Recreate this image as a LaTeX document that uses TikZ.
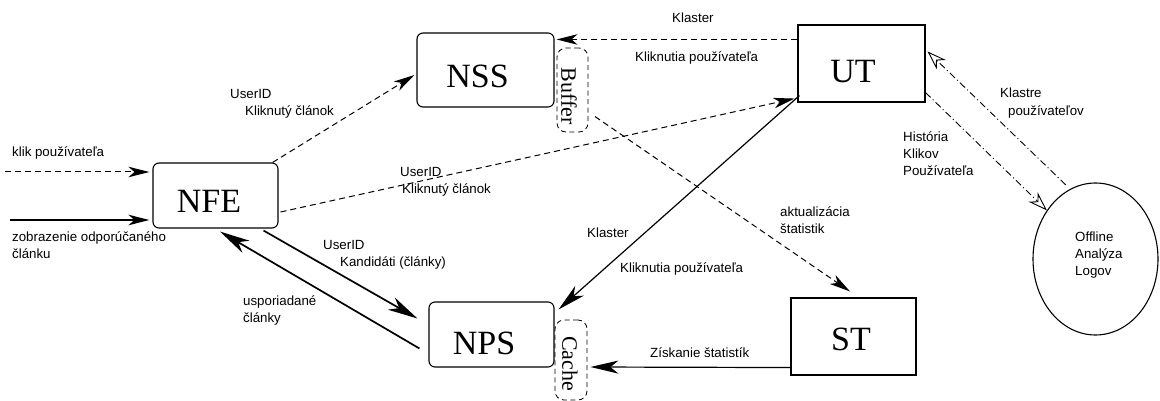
\documentclass[tikz,border=0pt]{standalone}
\usepackage{fontspec}
\setmainfont{Liberation Serif}
\newfontfamily\labelsans{Liberation Sans}
\usetikzlibrary{arrows.meta,calc,shapes.geometric}

\tikzset{
  unit/.style={draw, line width=1.1pt, inner sep=0pt},
  roundunit/.style={unit, rounded corners=6pt},
  store/.style={draw, dash pattern=on 5pt off 3.5pt, line width=0.8pt, rounded corners=9pt, inner sep=0pt},
  title/.style={font=\fontsize{34}{40}\selectfont, inner sep=0pt},
  side/.style={font=\fontsize{22}{26}\selectfont, inner sep=0pt, rotate=-90},
  note/.style={font=\labelsans\fontsize{13.3}{17}\selectfont, inner sep=0pt, anchor=west, align=left},
  flow/.style={line width=1pt, -{Stealth[length=21pt,width=10.5pt,inset=6pt]}},
  query/.style={flow, dash pattern=on 6pt off 4pt},
  solidflow/.style={line width=1.2pt, -{Stealth[length=28pt,width=13pt,inset=8pt]}},
  heavy/.style={line width=1.7pt, -{Stealth[length=30pt,width=14pt,inset=9pt]}},
  offline/.style={line width=0.9pt, dash pattern=on 7pt off 3pt on 1pt off 3pt,
                  -{Stealth[open,length=19pt,width=13pt,inset=6pt]}},
}

\begin{document}
\begin{tikzpicture}[x=1pt,y=-1pt]
\useasboundingbox (0,0) rectangle (1160,401);

% processing units
\node[roundunit, minimum width=125pt, minimum height=65pt,
      label={[title,xshift=-6.5pt,yshift=-5.5pt]center:NFE}] (nfe) at (215.5,195.5) {};
\node[roundunit, minimum width=137pt, minimum height=74pt,
      label={[title,xshift=-8pt,yshift=-6pt]center:NSS}] (nss) at (485.5,70) {};
\node[unit, minimum width=127pt, minimum height=77pt,
      label={[title,xshift=-8.5pt,yshift=-8pt]center:UT}] (ut) at (861.5,63.5) {};
\node[roundunit, minimum width=125pt, minimum height=65pt,
      label={[title,xshift=-7.5pt,yshift=-8.5pt]center:NPS}] (nps) at (491.5,334.5) {};
\node[unit, minimum width=125pt, minimum height=77pt,
      label={[title,xshift=-2.5pt,yshift=-2.5pt]center:ST}] (st) at (853.5,336.5) {};

% attached stores
\node[store, minimum width=31pt, minimum height=84pt] (buf) at (572.5,90) {};
\node[side] (buftxt) at ($(buf.center)+(-3.5,6.5)$) {Buffer};
\node[store, minimum width=32pt, minimum height=80pt] (cache) at (571,360) {};
\node[side] (cachetxt) at ($(cache.center)+(-1,3.5)$) {Cache};

% offline log analysis
\node[draw, ellipse, line width=1.1pt, minimum width=125pt, minimum height=152pt,
      inner sep=0pt] (ola) at (1095.5,259) {};
\node[note] (olatxt) at (1075,255) {Offline\\Analýza\\Logov};

% incoming requests
\coordinate (clickin) at (5,172);
\coordinate (showin) at (10,220);
\draw[query, shorten >=3pt] (clickin) -- (clickin -| nfe.west);
\draw[flow, line width=1.2pt, shorten >=3pt] (showin) -- (showin -| nfe.west);

% connectors between units
\draw[query] ($(nfe.north east)+(-6,0)$) -- ($(nss.west)+(-2,5)$);
\draw[query] ($(nfe.east)+(2,16.5)$) -- ($(ut.south west)+(-3,-4)$);
\draw[query] ($(ut.north west)+(0,15)$) -- ($(nss.north east)+(2,7)$);
\draw[query, shorten <=8pt] ($(buf.east)+(0,22)$) -- ($(st.north)+(-3.5,-6)$);
\draw[solidflow] ($(ut.south west)+(2,-7)$) -- ($(nps.north east)+(4,8)$);
\draw[heavy] ($(nfe.south east)+(-15,2)$) -- ($(nps.west)+(-11,-16)$);
\draw[heavy] ($(nps.west)+(-9,14)$) -- ($(nfe.south)+(4.5,3)$);
\draw[solidflow] ($(st.south west)+(0,-8)$) -- ($(cache.east)+(3,7)$);
\draw[offline] ($(ut.south east)+(0,-10)$) -- (ola.135);
\draw[offline, shorten <=6pt] (ola.110) -- ($(ut.north east)+(2,27)$);

% connector labels
\node[note] (l1) at (12,153) {klik používateľa};
\node[note] (l2) at (12,245) {zobrazenie odporúčaného\\článku};
\node[note] (l3) at (230,94) {UserID};
\node[note] (l4) at (245,112) {Kliknutý článok};
\node[note] (l5) at (400,172) {UserID};
\node[note] (l6) at (402,190) {Kliknutý článok};
\node[note] (l7) at (672,18) {Klaster};
\node[note] (l8) at (635,58) {Kliknutia používateľa};
\node[note] (l9) at (780,220) {aktualizácia\\štatistik};
\node[note] (l10) at (587,233) {Klaster};
\node[note] (l11) at (620,269) {Kliknutia používateľa};
\node[note] (l12) at (323,245) {UserID};
\node[note] (l13) at (340,263) {Kandidáti (články)};
\node[note] (l14) at (243,310) {usporiadané\\články};
\node[note] (l15) at (650,353) {Získanie štatistík};
\node[note] (l16) at (1000,93) {Klastre};
\node[note] (l17) at (1008,112) {používateľov};
\node[note] (l18) at (903,154) {História\\Klikov\\Používateľa};
\end{tikzpicture}
\end{document}
